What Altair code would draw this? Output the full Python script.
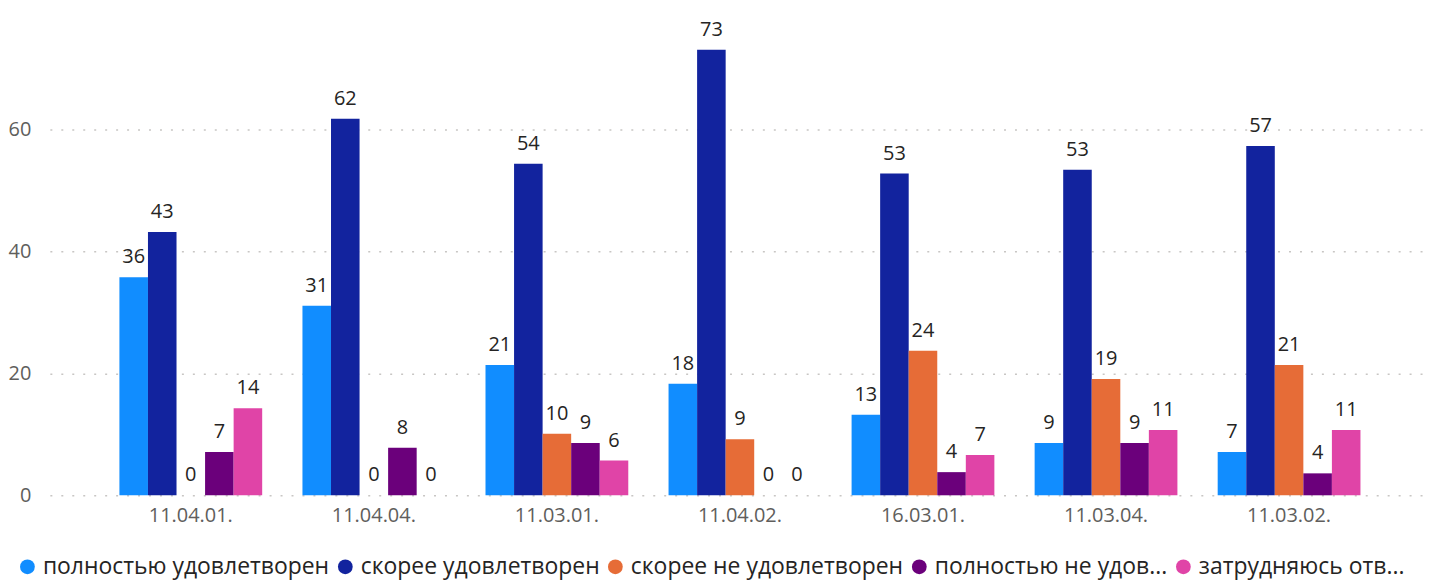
import altair as alt
import pandas as pd

FONT = "Open Sans"

categories = ["11.04.01.", "11.04.04.", "11.03.01.", "11.04.02.", "16.03.01.", "11.03.04.", "11.03.02."]
series = [
    "полностью удовлетворен",
    "скорее удовлетворен",
    "скорее не удовлетворен",
    "полностью не удовлетворен",
    "затрудняюсь ответить",
]
v_full_sat = [35.8, 31.1, 21.4, 18.3, 13.2, 8.6, 7.1]
v_rather_sat = [43.2, 61.8, 54.4, 73.1, 52.8, 53.4, 57.3]
v_rather_unsat = [0, 0, 10.1, 9.2, 23.7, 19.1, 21.4]
v_full_unsat = [7.1, 7.8, 8.6, 0, 3.8, 8.6, 3.6]
v_hard = [14.3, 0, 5.7, 0, 6.6, 10.7, 10.7]
colors = ["#118DFF", "#12239E", "#E66C37", "#6B007B", "#E044A7"]

rows = []
for s, vals in zip(series, [v_full_sat, v_rather_sat, v_rather_unsat, v_full_unsat, v_hard]):
    for c, v in zip(categories, vals):
        rows.append({"cat": c, "series": s, "value": v})
df = pd.DataFrame(rows)

label_expr = (
    "datum.label == 'полностью не удовлетворен' ? 'полностью не удов...' : "
    "datum.label == 'затрудняюсь ответить' ? 'затрудняюсь отв...' : datum.label"
)

x = alt.X(
    "cat:N", sort=categories,
    scale=alt.Scale(paddingInner=0.22, paddingOuter=0.38),
    axis=alt.Axis(title=None, labelAngle=0, domain=False, ticks=False, labelFontSize=20,
                  labelColor="#605E5C", labelPadding=10, labelFont=FONT),
)
xo = alt.XOffset("series:N", sort=series, scale=alt.Scale(paddingInner=0, paddingOuter=0))
y = alt.Y(
    "value:Q",
    scale=alt.Scale(domain=[0, 78], nice=False),
    axis=alt.Axis(title=None, values=[0, 20, 40, 60], domain=False, ticks=False, labelFontSize=20,
                  labelColor="#605E5C", labelPadding=19, labelFont=FONT, gridDash=[2, 9],
                  gridColor="#C8C6C4", gridWidth=1.5, minExtent=42, maxExtent=42, format="d"),
)

base = alt.Chart(df)

bars = base.mark_bar().encode(
    x=x, xOffset=xo, y=y,
    color=alt.Color(
        "series:N", sort=series,
        scale=alt.Scale(domain=series, range=colors),
        legend=alt.Legend(orient="none", legendX=-34, legendY=537, direction="horizontal", title=None,
                          padding=0, symbolType="circle", symbolSize=220, symbolStrokeWidth=0,
                          labelFontSize=23, labelColor="#252423", labelFont=FONT, labelExpr=label_expr,
                          columnPadding=4, labelOffset=4, labelLimit=400),
    ),
)

text = base.mark_text(baseline="alphabetic", dy=-14, fontSize=20, color="#252423", font=FONT).encode(
    x=x, xOffset=xo, y=y,
    text=alt.Text("value:Q", format=".0f"),
)

chart = alt.layer(bars, text).properties(
    width=1385, height=477,
    padding={"left": 0, "top": 10, "right": 5, "bottom": 0},
).configure_view(stroke=None)

chart.save("out.html", embed_options={"renderer": "svg", "actions": False})
